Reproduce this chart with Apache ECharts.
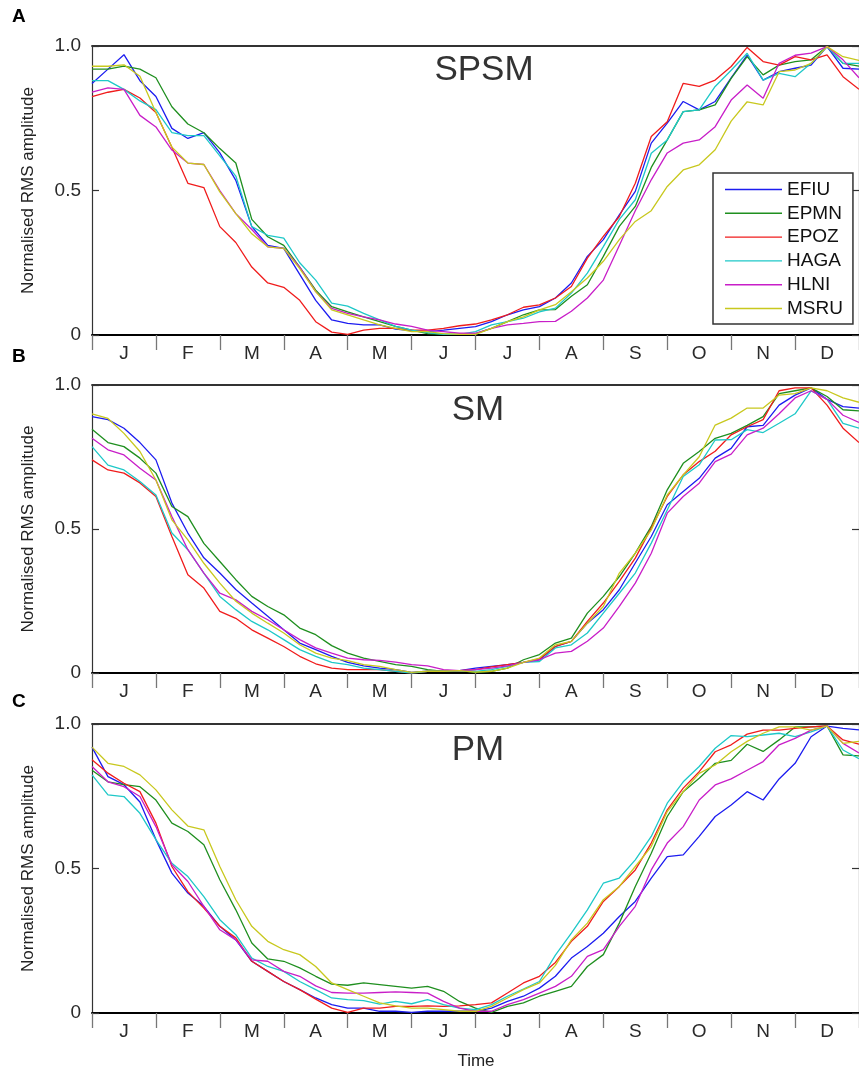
<!DOCTYPE html>
<html><head><meta charset="utf-8">
<script src="https://cdn.jsdelivr.net/npm/echarts@6/dist/echarts.min.js"></script>
<style>html,body{margin:0;padding:0;background:#fff}#c{width:859px;height:1072px}</style>
</head><body><div id="c"></div>
<script>
// ---- data ----
const monthLabels = ['J','F','M','A','M','J','J','A','S','O','N','D'];
const timeMonths = [0,0.25,0.5,0.75,1,1.25,1.5,1.75,2,2.25,2.5,2.75,3,3.25,3.5,3.75,4,4.25,4.5,4.75,5,5.25,5.5,5.75,6,6.25,6.5,6.75,7,7.25,7.5,7.75,8,8.25,8.5,8.75,9,9.25,9.5,9.75,10,10.25,10.5,10.75,11,11.25,11.5,11.75,12];
const stations = ['EFIU','EPMN','EPOZ','HAGA','HLNI','MSRU'];
const stationColors = ['#1c1cf0','#1f8f1f','#f01c1c','#1ec8c8','#c81ec8','#c8c81e'];
const panelTitles = ['SPSM','SM','PM'];
const panelLetters = ['A','B','C'];
const yTickValues = [0, 0.5, 1.0];

// Panel A: SPSM
const spsmEFIU = [0.87,0.92,0.97,0.88,0.825,0.715,0.68,0.70,0.63,0.535,0.375,0.31,0.30,0.21,0.12,0.052,0.04,0.035,0.035,0.02,0.015,
  0.012,0.017,0.023,0.029,0.046,0.07,0.087,0.098,
  0.128,0.18,0.272,0.33,0.416,0.497,0.664,0.733,0.808,0.779,0.808,0.89,0.968,
  0.882,0.911,0.923,0.934,0.998,0.923,0.92];
const spsmEPMN = [0.92,0.92,0.93,0.92,0.89,0.79,0.73,0.70,0.645,0.595,0.40,0.34,0.31,0.235,0.155,0.098,0.08,0.063,0.046,0.03,0.017,
  0.005,0.002,0.002,0.005,0.023,0.046,0.07,0.087,
  0.088,0.134,0.174,0.272,0.376,0.445,0.58,0.675,0.773,0.779,0.796,0.888,0.963,
  0.90,0.934,0.946,0.952,0.998,0.94,0.93];
const spsmEPOZ = [0.825,0.84,0.85,0.82,0.77,0.65,0.525,0.51,0.375,0.32,0.235,0.18,0.165,0.12,0.046,0.01,0.002,0.017,0.023,0.023,0.017,
  0.017,0.023,0.032,0.038,0.052,0.07,0.096,0.104,
  0.128,0.168,0.266,0.341,0.41,0.525,0.687,0.738,0.871,0.86,0.882,0.929,0.995,
  0.946,0.934,0.963,0.952,0.969,0.894,0.85];
const spsmHAGA = [0.88,0.88,0.85,0.81,0.78,0.70,0.69,0.69,0.62,0.55,0.375,0.345,0.335,0.25,0.19,0.11,0.10,0.075,0.052,0.03,0.017,
  0.008,0.002,0.002,0.012,0.035,0.046,0.058,0.08,
  0.093,0.145,0.214,0.306,0.40,0.468,0.629,0.675,0.773,0.779,0.86,0.916,0.975,
  0.882,0.905,0.894,0.94,0.998,0.94,0.94];
const spsmHLNI = [0.84,0.855,0.85,0.76,0.72,0.64,0.595,0.59,0.50,0.42,0.365,0.305,0.30,0.235,0.15,0.092,0.075,0.063,0.052,0.038,0.03,
  0.017,0.012,0.006,0.006,0.023,0.035,0.04,0.046,
  0.047,0.082,0.128,0.19,0.31,0.43,0.537,0.63,0.664,0.675,0.721,0.813,0.865,
  0.819,0.94,0.968,0.975,0.998,0.952,0.89];
const spsmMSRU = [0.93,0.93,0.935,0.895,0.77,0.65,0.595,0.59,0.495,0.42,0.35,0.305,0.30,0.23,0.15,0.087,0.07,0.052,0.035,0.023,0.012,
  0.012,0.005,0.002,0.002,0.023,0.046,0.063,0.087,
  0.105,0.15,0.197,0.255,0.33,0.393,0.43,0.514,0.571,0.589,0.641,0.74,0.807,
  0.796,0.911,0.917,0.94,0.998,0.963,0.95];

// Panel B: SM
const smEFIU = [0.89,0.88,0.85,0.80,0.74,0.59,0.486,0.40,0.347,0.29,0.243,0.197,0.15,0.104,0.081,0.058,0.037,0.025,0.017,0.012,0.002,
  0.006,0.006,0.008,0.017,0.023,0.029,0.037,0.046,
  0.092,0.11,0.173,0.22,0.289,0.382,0.474,0.584,0.63,0.676,0.746,0.78,0.855,
  0.86,0.93,0.965,0.99,0.95,0.925,0.92];
const smEPMN = [0.846,0.80,0.786,0.746,0.694,0.578,0.543,0.45,0.387,0.324,0.266,0.231,0.202,0.156,0.133,0.095,0.069,0.052,0.04,0.029,0.023,
  0.012,0.006,0.008,0.002,0.006,0.017,0.046,0.064,
  0.104,0.121,0.208,0.266,0.335,0.416,0.509,0.636,0.728,0.769,0.815,0.832,0.86,
  0.89,0.97,0.98,0.99,0.96,0.914,0.91];
const smEPOZ = [0.74,0.705,0.694,0.66,0.613,0.474,0.341,0.295,0.214,0.19,0.15,0.121,0.092,0.058,0.032,0.017,0.012,0.012,0.012,0.006,0.0,
  0.006,0.006,0.008,0.012,0.021,0.029,0.037,0.049,
  0.092,0.11,0.179,0.243,0.318,0.399,0.503,0.613,0.688,0.734,0.77,0.827,0.855,
  0.88,0.98,0.99,0.99,0.93,0.85,0.80];
const smHAGA = [0.786,0.722,0.705,0.665,0.618,0.486,0.428,0.347,0.266,0.22,0.179,0.15,0.116,0.081,0.058,0.037,0.029,0.017,0.012,0.006,0.0,
  0.006,0.006,0.008,0.006,0.012,0.023,0.037,0.040,
  0.087,0.098,0.139,0.208,0.277,0.347,0.451,0.566,0.682,0.723,0.809,0.81,0.845,
  0.835,0.867,0.90,0.98,0.95,0.867,0.85];
const smHLNI = [0.815,0.775,0.757,0.711,0.67,0.543,0.428,0.347,0.277,0.254,0.214,0.185,0.15,0.116,0.087,0.069,0.052,0.046,0.044,0.038,0.029,
  0.025,0.012,0.008,0.012,0.017,0.025,0.037,0.046,
  0.069,0.075,0.11,0.156,0.231,0.312,0.416,0.555,0.613,0.659,0.734,0.76,0.827,
  0.85,0.90,0.955,0.98,0.95,0.895,0.87];
const smMSRU = [0.90,0.884,0.832,0.769,0.67,0.532,0.462,0.381,0.312,0.249,0.208,0.173,0.139,0.098,0.069,0.052,0.043,0.029,0.023,0.012,0.002,
  0.006,0.006,0.008,0.003,0.006,0.017,0.037,0.052,
  0.098,0.11,0.173,0.231,0.347,0.416,0.497,0.618,0.688,0.751,0.861,0.885,0.92,
  0.92,0.965,0.97,0.99,0.98,0.955,0.94];

// Panel C: PM
const pmEFIU = [0.92,0.818,0.79,0.73,0.60,0.484,0.415,0.369,0.30,0.253,0.179,0.144,0.109,0.081,0.052,0.029,0.017,0.017,0.006,0.006,0.002,
  0.006,0.006,0.006,0.006,0.017,0.04,0.058,0.086,
  0.127,0.19,0.23,0.276,0.334,0.386,0.467,0.541,0.547,0.611,0.68,0.72,0.766,
  0.737,0.81,0.864,0.956,0.993,0.985,0.98];
const pmEPMN = [0.84,0.80,0.79,0.783,0.737,0.657,0.628,0.582,0.461,0.357,0.242,0.187,0.179,0.156,0.127,0.10,0.096,0.104,0.098,0.092,0.086,
  0.092,0.075,0.04,0.017,0.002,0.023,0.035,0.058,
  0.075,0.092,0.161,0.202,0.311,0.438,0.553,0.68,0.766,0.812,0.864,0.874,0.93,
  0.905,0.945,0.99,0.99,0.993,0.893,0.89];
const pmEPOZ = [0.876,0.83,0.795,0.766,0.657,0.507,0.42,0.363,0.30,0.26,0.179,0.144,0.109,0.081,0.048,0.017,0.002,0.017,0.017,0.023,0.023,
  0.025,0.023,0.025,0.029,0.035,0.069,0.104,0.127,
  0.175,0.248,0.30,0.386,0.438,0.495,0.588,0.703,0.778,0.835,0.904,0.928,0.965,
  0.979,0.979,0.985,0.99,0.993,0.945,0.93];
const pmHAGA = [0.824,0.755,0.749,0.691,0.60,0.518,0.472,0.403,0.323,0.271,0.19,0.161,0.144,0.109,0.081,0.052,0.046,0.043,0.031,0.04,0.032,
  0.046,0.029,0.017,0.012,0.029,0.058,0.083,0.109,
  0.2,0.276,0.357,0.449,0.467,0.53,0.611,0.726,0.80,0.853,0.916,0.96,0.956,
  0.962,0.968,0.956,0.973,0.993,0.91,0.88];
const pmHLNI = [0.853,0.80,0.783,0.749,0.645,0.513,0.455,0.369,0.288,0.253,0.184,0.179,0.144,0.127,0.094,0.071,0.069,0.069,0.071,0.073,0.071,
  0.069,0.04,0.017,0.006,0.006,0.029,0.046,0.069,
  0.092,0.127,0.196,0.219,0.30,0.369,0.495,0.588,0.645,0.737,0.789,0.81,0.84,
  0.87,0.928,0.95,0.979,0.993,0.933,0.90];
const pmMSRU = [0.92,0.864,0.853,0.824,0.772,0.703,0.647,0.634,0.507,0.392,0.30,0.248,0.219,0.202,0.161,0.104,0.081,0.058,0.035,0.025,0.017,
  0.017,0.012,0.006,0.006,0.023,0.052,0.081,0.104,
  0.165,0.253,0.311,0.392,0.438,0.507,0.576,0.697,0.766,0.829,0.858,0.904,0.94,
  0.968,0.99,0.99,0.979,0.993,0.933,0.94];

const panelData = [
  [spsmEFIU, spsmEPMN, spsmEPOZ, spsmHAGA, spsmHLNI, spsmMSRU],
  [smEFIU, smEPMN, smEPOZ, smHAGA, smHLNI, smMSRU],
  [pmEFIU, pmEPMN, pmEPOZ, pmHAGA, pmHLNI, pmMSRU]
];

// ---- layout ----
const FONT = 'Liberation Sans, Arial, Helvetica, sans-serif';
const grids = [
  {left: 92, top: 46, width: 774, height: 289},
  {left: 92, top: 385, width: 774, height: 288},
  {left: 92, top: 724, width: 774, height: 289}
];
const titlePos = [[484, 70], [478, 410], [478, 750]];
const letterPos = [[12, 7], [12, 347], [12, 692]];

const xAxes = [], yAxes = [], series = [], graphics = [];
grids.forEach((g, i) => {
  xAxes.push({
    type: 'category', gridIndex: i, position: 'bottom',
    data: monthLabels.map((_, k) => String(k)), boundaryGap: true,
    axisLine: {show: true, lineStyle: {color: '#000', width: 2}},
    axisTick: {show: true, alignWithLabel: false, length: 15, lineStyle: {color: '#777', width: 1.3}},
    axisLabel: {show: true, fontSize: 19, color: '#2a2a2a', margin: 9, fontFamily: FONT,
      formatter: (v) => monthLabels[+v]},
    splitLine: {show: false}
  });
  xAxes.push({
    type: 'value', gridIndex: i, position: 'top', min: 0, max: 12,
    axisLine: {show: true, onZero: false, lineStyle: {color: '#333', width: 1.8}},
    axisTick: {show: false}, axisLabel: {show: false}, splitLine: {show: false}
  });
  yAxes.push({
    type: 'value', gridIndex: i, position: 'left', min: 0, max: 1, interval: 0.5,
    axisLine: {show: true, lineStyle: {color: '#333', width: 1.2}},
    axisTick: {show: true, inside: true, length: 7, lineStyle: {color: '#333', width: 1.2}},
    axisLabel: {fontSize: 19, color: '#2a2a2a', margin: 11, fontFamily: FONT,
      formatter: (v) => (v === 0 ? '0' : v.toFixed(1))},
    splitLine: {show: false},
    name: 'Normalised RMS amplitude', nameLocation: 'middle', nameGap: 55,
    nameTextStyle: {fontSize: 17, color: '#222', fontFamily: FONT}
  });
  yAxes.push({
    type: 'value', gridIndex: i, position: 'right', min: 0, max: 1, interval: 0.5,
    axisLine: {show: true, lineStyle: {color: '#333', width: 1.2}},
    axisTick: {show: true, inside: true, length: 7, lineStyle: {color: '#333', width: 1.2}},
    axisLabel: {show: false}, splitLine: {show: false}
  });
  stations.forEach((name, j) => {
    const vals = panelData[i][j];
    series.push({
      type: 'line', name: name, xAxisIndex: 2 * i + 1, yAxisIndex: 2 * i,
      data: timeMonths.map((m, k) => [m, vals[k]]),
      symbol: 'none', smooth: false,
      lineStyle: {width: 1.3, color: stationColors[j]},
      itemStyle: {color: stationColors[j]},
      emphasis: {disabled: true},
      z: 2
    });
  });
  graphics.push({
    type: 'text', x: titlePos[i][0], y: titlePos[i][1], z: 10,
    style: {text: panelTitles[i], fontSize: 35, fontFamily: FONT, fill: '#333',
      align: 'center', verticalAlign: 'middle', textAlign: 'center', textVerticalAlign: 'middle'}
  });
  graphics.push({
    type: 'text', x: letterPos[i][0], y: letterPos[i][1], z: 10,
    style: {text: panelLetters[i], fontSize: 19, fontWeight: 'bold', fontFamily: FONT, fill: '#000'}
  });
});
graphics.push({
  type: 'text', x: 476, y: 1061, z: 10,
  style: {text: 'Time', fontSize: 17, fontFamily: FONT, fill: '#222',
    align: 'center', verticalAlign: 'middle', textAlign: 'center', textVerticalAlign: 'middle'}
});

const chart = echarts.init(document.getElementById('c'), null, {renderer: 'canvas'});
chart.setOption({
  animation: false,
  backgroundColor: '#fff',
  textStyle: {fontFamily: FONT},
  grid: grids,
  xAxis: xAxes,
  yAxis: yAxes,
  series: series,
  legend: {
    show: true, data: stations, orient: 'vertical', left: 713, top: 173,
    padding: [7, 10, 6, 12], itemGap: 4.8, itemWidth: 57, itemHeight: 14,
    icon: 'path://M0,0H57V1.4H0Z', symbolKeepAspect: true,
    borderColor: '#333', borderWidth: 1.5, backgroundColor: '#fff',
    textStyle: {fontSize: 19, color: '#111', fontFamily: FONT},
    selectedMode: false
  },
  graphic: graphics
});
</script></body></html>
